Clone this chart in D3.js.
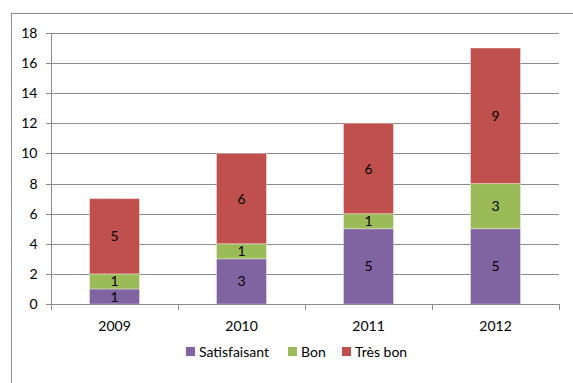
<!DOCTYPE html>
<html>
<head>
<meta charset="utf-8">
<script src="https://cdn.jsdelivr.net/npm/d3@7"></script>
<style>
  html, body { margin: 0; padding: 0; background: #fff; }
  svg { display: block; font-family: Lato, "Open Sans", sans-serif; }
</style>
</head>
<body>
<svg id="chart" width="573" height="383"></svg>
<script>
// Years on the x axis
const years = ["2009", "2010", "2011", "2012"];
// Stacked series, bottom to top
const seriesNames = ["Satisfaisant", "Bon", "Très bon"];
const satisfaisant = [1, 3, 5, 5];
const bon = [1, 1, 1, 3];
const tresBon = [5, 6, 6, 9];
const yTicks = [0, 2, 4, 6, 8, 10, 12, 14, 16, 18];
const colors = ["#8064A2", "#9BBB59", "#C0504D"];
const fontSize = 14;

const rows = years.map((y, i) => ({
  year: y,
  "Satisfaisant": satisfaisant[i],
  "Bon": bon[i],
  "Très bon": tresBon[i]
}));

const svg = d3.select("#chart");
const plotLeft = 51, plotRight = 559, plotTop = 33, plotBottom = 304;

// Outer chart frame
svg.append("rect")
  .attr("x", 11.5).attr("y", 13.5)
  .attr("width", 600).attr("height", 400)
  .attr("fill", "none").attr("stroke", "#8c8c8c").attr("stroke-width", 1);

const x = d3.scaleBand().domain(years).range([plotLeft, plotRight]).paddingInner(0.6064).paddingOuter(0.3032);
const y = d3.scaleLinear().domain([0, 18]).range([plotBottom, plotTop]);

// Horizontal gridlines
svg.append("g").selectAll("line").data(yTicks).join("line")
  .attr("x1", plotLeft - 5).attr("x2", plotRight)
  .attr("y1", d => Math.round(y(d)) + 0.5).attr("y2", d => Math.round(y(d)) + 0.5)
  .attr("stroke", "#8c8c8c").attr("stroke-width", 1);

// Y axis
const yAxis = svg.append("g").attr("transform", `translate(${plotLeft + 0.5},0)`)
  .call(d3.axisLeft(y).tickValues(yTicks).tickSize(5).tickPadding(9));
yAxis.select(".domain").attr("stroke", "#8c8c8c").attr("d", `M0,${plotTop}V${plotBottom}`);
yAxis.selectAll(".tick line").remove();
yAxis.selectAll("text").attr("font-size", fontSize).attr("fill", "#000")
  .attr("font-family", "Lato, 'Open Sans', sans-serif");

// Stacked bars
const stack = d3.stack().keys(seriesNames)(rows);
const layers = svg.append("g").selectAll("g").data(stack).join("g")
  .attr("fill", (d, i) => colors[i]);
layers.selectAll("rect").data(d => d).join("rect")
  .attr("x", d => x(d.data.year))
  .attr("width", x.bandwidth())
  .attr("y", d => y(d[1]))
  .attr("height", d => y(d[0]) - y(d[1]))
  .attr("stroke", "rgba(255,255,255,0.35)").attr("stroke-width", 1);

// Value labels centred in each segment
layers.selectAll("text").data(d => d.map(v => ({ v, key: d.key }))).join("text")
  .attr("x", d => x(d.v.data.year) + x.bandwidth() / 2)
  .attr("y", d => (y(d.v[0]) + y(d.v[1])) / 2)
  .attr("dy", "0.36em")
  .attr("text-anchor", "middle")
  .attr("font-size", fontSize).attr("fill", "#000")
  .text(d => d.v.data[d.key]);

// X axis
const xAxis = svg.append("g").attr("transform", `translate(0,${plotBottom + 0.5})`)
  .call(d3.axisBottom(x).tickSize(0).tickPadding(17));
xAxis.select(".domain").attr("stroke", "#8c8c8c").attr("d", `M${plotLeft},0H${plotRight}`);
xAxis.selectAll("text").attr("font-size", fontSize).attr("fill", "#000")
  .attr("font-family", "Lato, 'Open Sans', sans-serif");
const step = (plotRight - plotLeft) / years.length;
svg.append("g").selectAll("line").data(d3.range(years.length + 1)).join("line")
  .attr("x1", i => Math.round(plotLeft + i * step) + 0.5).attr("x2", i => Math.round(plotLeft + i * step) + 0.5)
  .attr("y1", plotBottom).attr("y2", plotBottom + 6)
  .attr("stroke", "#8c8c8c");

// Legend
const legendX = [186, 288, 342];
const legend = svg.append("g").selectAll("g").data(seriesNames).join("g")
  .attr("transform", (d, i) => `translate(${legendX[i]},352)`);
legend.append("rect").attr("x", 0).attr("y", -5).attr("width", 9).attr("height", 9)
  .attr("fill", (d, i) => colors[i]);
legend.append("text").attr("x", 13).attr("y", 0).attr("dy", "0.36em")
  .attr("font-size", fontSize).attr("fill", "#000").text(d => d);
</script>
</body>
</html>
